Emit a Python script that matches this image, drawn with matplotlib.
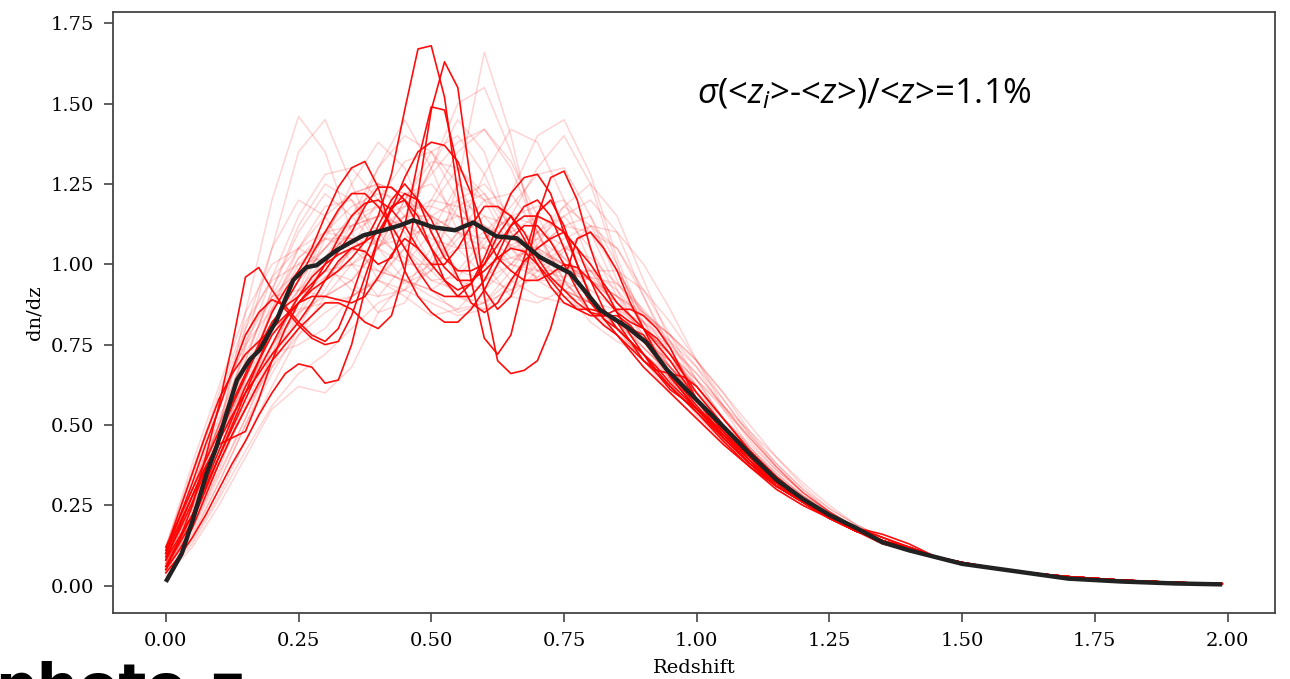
"""Redshift distribution: individual realisations (red) and their mean (black)."""

import matplotlib
matplotlib.use("Agg")
import matplotlib.pyplot as plt
import numpy as np

plt.rcParams["mathtext.fontset"] = "custom"
plt.rcParams["mathtext.rm"] = "Open Sans"
plt.rcParams["mathtext.it"] = "Open Sans:italic"

# redshift grids: fine one for the highlighted curves, coarse one for the pale ones
Z_FINE = [0.000, 0.025, 0.050, 0.075, 0.100, 0.125, 0.150, 0.175, 0.200, 0.225, 0.250,
          0.275, 0.300, 0.325, 0.350, 0.375, 0.400, 0.425, 0.450, 0.475, 0.500, 0.525,
          0.550, 0.575, 0.600, 0.625, 0.650, 0.675, 0.700, 0.725, 0.750, 0.775, 0.800,
          0.825, 0.850, 0.875, 0.900, 0.925, 0.950, 0.975, 1.000,
          1.05, 1.10, 1.15, 1.20, 1.25, 1.30, 1.35, 1.40]
Z = [0.00, 0.05, 0.10, 0.15, 0.20, 0.25, 0.30, 0.35, 0.40, 0.45, 0.50, 0.55, 0.60, 0.65,
     0.70, 0.75, 0.80, 0.85, 0.90, 0.95, 1.00, 1.05, 1.10, 1.15, 1.20, 1.25, 1.30, 1.35, 1.40]
Z_TAIL = [1.45, 1.50, 1.55, 1.60, 1.65, 1.70, 1.80, 1.90, 1.99]
TAIL = [0.090, 0.072, 0.058, 0.046, 0.036, 0.028, 0.017, 0.010, 0.006]

# mean dn/dz (black)
Z_MEAN = [0.00, 0.03, 0.05, 0.077, 0.096, 0.115, 0.134, 0.158, 0.177, 0.209, 0.24, 0.265, 0.284,
          0.322, 0.372, 0.41, 0.441, 0.466, 0.504, 0.545, 0.579, 0.623, 0.661, 0.705, 0.762,
          0.793, 0.818, 0.869, 0.906, 0.944, 0.994, 1.05, 1.10, 1.15, 1.20, 1.25, 1.30, 1.35,
          1.40, 1.50, 1.60, 1.70, 1.80, 1.90, 1.99]
DNDZ_MEAN = [0.012, 0.10, 0.20, 0.35, 0.434, 0.539, 0.64, 0.703, 0.734, 0.827, 0.951, 0.991,
             0.997, 1.044, 1.09, 1.106, 1.121, 1.137, 1.115, 1.106, 1.13, 1.087, 1.081, 1.022,
             0.972, 0.91, 0.858, 0.805, 0.756, 0.672, 0.588, 0.495, 0.41, 0.33, 0.27, 0.22,
             0.18, 0.135, 0.11, 0.068, 0.045, 0.022, 0.013, 0.007, 0.004]

# highlighted realisations (on Z_FINE)
BRIGHT = [
    [.08, .15, .22, .32, .42, .52, .62, .70, .78, .83, .88, .92, .95, .98, 1.02, 1.07, 1.15, 1.28, 1.48, 1.67, 1.68,
     1.52, 1.22, .95, .77, .72, .78, .95, 1.15, 1.27, 1.29, 1.20, 1.05, .93, .85, .78, .72, .66, .61, .58, .55,
     .48, .40, .32, .26, .21, .17, .14, .12],
    [.05, .11, .18, .28, .38, .47, .55, .63, .70, .75, .80, .84, .88, .88, .86, .82, .80, .84, .98, 1.22, 1.48,
     1.63, 1.55, 1.25, .90, .70, .66, .67, .70, .80, .95, 1.08, 1.10, 1.05, .98, .88, .80, .72, .65, .60, .55,
     .47, .40, .32, .26, .21, .17, .14, .12],
    [.10, .19, .28, .37, .45, .53, .60, .66, .72, .77, .82, .88, .95, 1.01, 1.05, 1.04, 1.00, 1.02, 1.12, 1.32, 1.49,
     1.48, 1.30, 1.08, .92, .86, .90, 1.02, 1.16, 1.20, 1.12, 1.00, .90, .85, .82, .80, .78, .72, .65, .60, .55,
     .46, .38, .31, .26, .22, .18, .14, .11],
    [.06, .13, .20, .30, .40, .49, .58, .67, .75, .83, .90, .96, 1.00, 1.03, 1.05, 1.07, 1.10, 1.17, 1.27, 1.35, 1.38,
     1.37, 1.32, 1.22, 1.10, 1.02, .98, .95, .95, .97, 1.00, .99, .95, .90, .85, .82, .80, .77, .72, .66, .60,
     .50, .42, .34, .27, .22, .17, .14, .12],
    [.12, .21, .30, .39, .48, .57, .66, .75, .85, .92, .98, 1.05, 1.15, 1.24, 1.30, 1.32, 1.24, 1.10, .98, .90, .85,
     .82, .82, .86, .92, 1.00, 1.08, 1.12, 1.12, 1.07, 1.00, .92, .85, .81, .78, .74, .70, .66, .62, .58, .54,
     .45, .37, .30, .25, .21, .17, .14, .11],
    [.05, .14, .25, .40, .56, .75, .96, .99, .92, .86, .81, .77, .75, .76, .84, .96, 1.08, 1.17, 1.22, 1.20, 1.14,
     1.05, .96, .88, .85, .88, .95, 1.01, 1.05, 1.08, 1.10, 1.05, .95, .86, .80, .76, .72, .67, .62, .58, .54,
     .46, .38, .31, .26, .21, .17, .14, .11],
    [.04, .09, .15, .22, .30, .38, .45, .53, .60, .66, .69, .68, .63, .64, .75, .92, 1.08, 1.18, 1.20, 1.15, 1.05,
     .95, .90, .90, .95, 1.03, 1.12, 1.18, 1.20, 1.15, 1.05, .95, .88, .83, .80, .76, .72, .68, .63, .59, .55,
     .47, .38, .31, .26, .21, .17, .14, .11],
    [.10, .21, .32, .44, .55, .67, .78, .85, .89, .87, .82, .78, .76, .80, .90, 1.02, 1.12, 1.20, 1.25, 1.20, 1.10,
     1.02, .98, .98, 1.00, 1.06, 1.12, 1.15, 1.15, 1.13, 1.10, 1.05, 1.00, .94, .88, .84, .80, .75, .70, .64, .58,
     .48, .39, .32, .26, .21, .17, .13, .11],
    [.08, .18, .28, .37, .44, .46, .48, .58, .70, .80, .88, .90, .90, .89, .88, .90, .96, 1.03, 1.08, 1.05, 1.00,
     .95, .92, .94, 1.00, 1.09, 1.15, 1.10, 1.02, .96, .92, .88, .85, .84, .84, .81, .76, .71, .66, .61, .56,
     .47, .39, .31, .26, .21, .17, .14, .11],
    [.06, .14, .22, .31, .40, .50, .60, .70, .80, .88, .95, 1.03, 1.10, 1.17, 1.22, 1.22, 1.18, 1.12, 1.05, .98, .92,
     .90, .90, .94, 1.02, 1.12, 1.22, 1.27, 1.28, 1.22, 1.10, 1.00, .90, .83, .78, .73, .68, .64, .60, .56, .52,
     .44, .37, .31, .26, .21, .17, .14, .11],
    [.09, .17, .26, .36, .46, .56, .65, .74, .82, .87, .90, .94, .98, 1.04, 1.10, 1.18, 1.24, 1.24, 1.20, 1.12, 1.05,
     .99, .95, .95, .98, 1.02, 1.05, 1.04, 1.00, .95, .90, .86, .84, .84, .86, .86, .84, .80, .74, .66, .58,
     .46, .38, .32, .27, .22, .18, .16, .13],
    [.11, .23, .35, .47, .58, .66, .72, .76, .80, .84, .88, .93, 1.00, 1.08, 1.15, 1.19, 1.20, 1.17, 1.12, 1.05, 1.00,
     1.00, 1.05, 1.12, 1.18, 1.18, 1.15, 1.08, 1.00, .93, .88, .86, .86, .85, .82, .76, .70, .67, .66, .65, .62,
     .52, .42, .33, .27, .22, .18, .15, .12],
]

# the rest of the realisations, pale (on Z)
FAINT = [
    [0.05, 0.20, 0.45, 0.75, 1.05, 1.35, 1.45, 1.25, 1.05, 1.00, 1.10, 1.25, 1.20, 1.05, 0.95, 0.95, 0.90, 0.80, 0.70, 0.62, 0.54, 0.45, 0.37, 0.30, 0.25, 0.21, 0.17, 0.14, 0.11],
    [0.10, 0.30, 0.50, 0.70, 0.92, 1.10, 1.22, 1.15, 1.05, 1.12, 1.30, 1.45, 1.35, 1.10, 0.95, 0.90, 0.88, 0.82, 0.74, 0.66, 0.58, 0.48, 0.40, 0.32, 0.26, 0.21, 0.17, 0.14, 0.11],
    [0.07, 0.22, 0.40, 0.55, 0.70, 0.85, 1.00, 1.12, 1.18, 1.05, 0.98, 1.25, 1.66, 1.40, 1.05, 0.92, 0.88, 0.82, 0.74, 0.66, 0.58, 0.48, 0.40, 0.32, 0.26, 0.21, 0.17, 0.14, 0.11],
    [0.12, 0.35, 0.60, 0.82, 0.95, 1.00, 1.02, 1.10, 1.30, 1.45, 1.30, 1.10, 1.00, 1.02, 1.05, 1.00, 0.90, 0.80, 0.72, 0.64, 0.56, 0.47, 0.39, 0.31, 0.26, 0.21, 0.17, 0.14, 0.11],
    [0.04, 0.15, 0.32, 0.50, 0.66, 0.80, 0.95, 1.05, 1.10, 1.15, 1.15, 1.10, 1.08, 1.15, 1.30, 1.40, 1.25, 1.00, 0.80, 0.66, 0.56, 0.47, 0.39, 0.31, 0.26, 0.21, 0.17, 0.14, 0.11],
    [0.09, 0.28, 0.50, 0.68, 0.82, 0.92, 0.98, 1.00, 0.98, 0.95, 0.90, 0.86, 0.88, 0.95, 1.05, 1.12, 1.10, 0.98, 0.85, 0.75, 0.66, 0.56, 0.46, 0.37, 0.29, 0.23, 0.18, 0.15, 0.12],
    [0.06, 0.24, 0.50, 0.80, 1.05, 1.20, 1.15, 1.00, 0.90, 0.92, 1.05, 1.20, 1.25, 1.15, 1.05, 1.00, 0.95, 0.90, 0.85, 0.78, 0.68, 0.55, 0.43, 0.34, 0.27, 0.22, 0.18, 0.15, 0.12],
    [0.11, 0.30, 0.48, 0.62, 0.75, 0.90, 1.08, 1.25, 1.38, 1.30, 1.10, 0.95, 0.92, 1.00, 1.10, 1.15, 1.05, 0.90, 0.78, 0.68, 0.58, 0.49, 0.41, 0.33, 0.27, 0.22, 0.18, 0.14, 0.11],
    [0.05, 0.18, 0.35, 0.52, 0.70, 0.88, 0.98, 0.95, 0.85, 0.88, 1.02, 1.18, 1.22, 1.12, 1.00, 0.92, 0.88, 0.86, 0.82, 0.76, 0.68, 0.58, 0.47, 0.37, 0.29, 0.23, 0.18, 0.14, 0.11],
    [0.08, 0.26, 0.46, 0.66, 0.86, 1.05, 1.18, 1.20, 1.10, 1.00, 1.00, 1.10, 1.20, 1.22, 1.10, 0.95, 0.85, 0.80, 0.76, 0.70, 0.62, 0.52, 0.42, 0.34, 0.27, 0.22, 0.18, 0.15, 0.12],
    [0.10, 0.32, 0.56, 0.78, 0.90, 0.92, 0.90, 0.95, 1.05, 1.20, 1.35, 1.40, 1.28, 1.10, 0.98, 0.92, 0.88, 0.80, 0.70, 0.60, 0.52, 0.44, 0.37, 0.31, 0.26, 0.21, 0.17, 0.14, 0.11],
    [0.04, 0.14, 0.28, 0.45, 0.62, 0.78, 0.90, 1.00, 1.08, 1.15, 1.20, 1.18, 1.10, 1.02, 1.00, 1.05, 1.10, 1.05, 0.92, 0.78, 0.64, 0.52, 0.42, 0.34, 0.28, 0.23, 0.18, 0.15, 0.12],
    [0.12, 0.38, 0.62, 0.85, 1.00, 1.05, 1.00, 0.92, 0.90, 1.00, 1.18, 1.30, 1.22, 1.08, 1.05, 1.12, 1.15, 1.00, 0.80, 0.64, 0.53, 0.45, 0.38, 0.31, 0.26, 0.21, 0.17, 0.14, 0.11],
    [0.07, 0.22, 0.42, 0.62, 0.80, 0.95, 1.05, 1.12, 1.15, 1.12, 1.08, 1.05, 1.05, 1.10, 1.15, 1.10, 0.98, 0.86, 0.76, 0.68, 0.60, 0.52, 0.44, 0.36, 0.29, 0.23, 0.18, 0.14, 0.11],
    [0.06, 0.20, 0.38, 0.55, 0.68, 0.78, 0.85, 0.90, 0.95, 1.05, 1.20, 1.35, 1.42, 1.30, 1.10, 0.95, 0.85, 0.78, 0.72, 0.65, 0.57, 0.48, 0.40, 0.32, 0.26, 0.21, 0.17, 0.14, 0.11],
    [0.09, 0.30, 0.55, 0.76, 0.90, 0.98, 1.05, 1.15, 1.25, 1.22, 1.10, 0.98, 0.95, 1.00, 1.08, 1.15, 1.20, 1.10, 0.90, 0.72, 0.58, 0.48, 0.40, 0.33, 0.27, 0.22, 0.18, 0.14, 0.11],
    [0.05, 0.17, 0.34, 0.52, 0.72, 0.92, 1.10, 1.22, 1.25, 1.15, 1.00, 0.90, 0.86, 0.90, 0.98, 1.05, 1.02, 0.94, 0.85, 0.78, 0.70, 0.60, 0.48, 0.38, 0.30, 0.23, 0.18, 0.14, 0.11],
    [0.10, 0.28, 0.45, 0.60, 0.72, 0.82, 0.92, 1.05, 1.20, 1.32, 1.35, 1.25, 1.10, 1.00, 0.96, 0.98, 0.98, 0.92, 0.82, 0.70, 0.58, 0.48, 0.40, 0.32, 0.26, 0.21, 0.17, 0.14, 0.11],
    [0.08, 0.24, 0.44, 0.65, 0.85, 1.00, 1.08, 1.05, 0.98, 0.95, 1.00, 1.05, 1.10, 1.18, 1.28, 1.30, 1.15, 0.95, 0.80, 0.68, 0.58, 0.48, 0.40, 0.33, 0.27, 0.22, 0.18, 0.15, 0.12],
    [0.11, 0.34, 0.58, 0.80, 0.96, 1.05, 1.10, 1.12, 1.15, 1.22, 1.25, 1.15, 1.00, 0.90, 0.88, 0.92, 0.96, 0.94, 0.86, 0.76, 0.64, 0.52, 0.42, 0.33, 0.27, 0.22, 0.18, 0.14, 0.11],
    [0.06, 0.18, 0.36, 0.58, 0.80, 0.98, 1.10, 1.18, 1.22, 1.20, 1.15, 1.10, 1.05, 1.00, 0.98, 0.98, 0.95, 0.88, 0.80, 0.72, 0.64, 0.56, 0.48, 0.40, 0.32, 0.25, 0.19, 0.15, 0.12],
    [0.07, 0.23, 0.42, 0.60, 0.75, 0.85, 0.90, 0.95, 1.05, 1.20, 1.32, 1.30, 1.20, 1.15, 1.18, 1.20, 1.10, 0.92, 0.76, 0.64, 0.54, 0.46, 0.39, 0.32, 0.27, 0.22, 0.18, 0.14, 0.11],
    [0.09, 0.27, 0.48, 0.70, 0.92, 1.12, 1.25, 1.20, 1.05, 0.95, 0.92, 0.98, 1.08, 1.15, 1.12, 1.02, 0.92, 0.86, 0.80, 0.72, 0.62, 0.52, 0.43, 0.35, 0.28, 0.22, 0.18, 0.14, 0.11],
    [0.05, 0.16, 0.32, 0.50, 0.68, 0.84, 0.96, 1.04, 1.10, 1.18, 1.28, 1.38, 1.42, 1.32, 1.15, 1.00, 0.90, 0.82, 0.76, 0.70, 0.62, 0.52, 0.42, 0.34, 0.27, 0.22, 0.18, 0.14, 0.11],
    [0.12, 0.36, 0.58, 0.75, 0.86, 0.95, 1.05, 1.15, 1.18, 1.10, 0.98, 0.90, 0.88, 0.92, 1.00, 1.08, 1.12, 1.10, 1.00, 0.86, 0.70, 0.56, 0.45, 0.36, 0.29, 0.23, 0.18, 0.15, 0.12],
    [0.08, 0.25, 0.46, 0.68, 0.88, 1.02, 1.08, 1.08, 1.06, 1.08, 1.12, 1.15, 1.12, 1.06, 1.02, 1.00, 0.96, 0.90, 0.82, 0.74, 0.66, 0.56, 0.46, 0.37, 0.29, 0.23, 0.18, 0.14, 0.11],
    [0.06, 0.20, 0.40, 0.60, 0.78, 0.90, 0.96, 1.00, 1.05, 1.15, 1.30, 1.50, 1.55, 1.35, 1.10, 0.92, 0.82, 0.76, 0.72, 0.66, 0.58, 0.49, 0.40, 0.33, 0.27, 0.22, 0.18, 0.14, 0.11],
    [0.10, 0.30, 0.52, 0.72, 0.90, 1.05, 1.15, 1.22, 1.25, 1.22, 1.15, 1.05, 0.96, 0.92, 0.96, 1.04, 1.12, 1.05, 0.90, 0.74, 0.60, 0.50, 0.41, 0.33, 0.27, 0.22, 0.18, 0.14, 0.11],
    [0.07, 0.21, 0.38, 0.56, 0.74, 0.90, 1.02, 1.10, 1.15, 1.18, 1.18, 1.15, 1.12, 1.08, 1.04, 1.00, 0.95, 0.88, 0.80, 0.72, 0.64, 0.55, 0.46, 0.37, 0.29, 0.23, 0.18, 0.14, 0.11],
    [0.09, 0.28, 0.50, 0.74, 0.96, 1.15, 1.28, 1.30, 1.20, 1.05, 0.95, 0.92, 0.98, 1.06, 1.10, 1.06, 0.98, 0.88, 0.78, 0.68, 0.58, 0.49, 0.41, 0.33, 0.27, 0.22, 0.18, 0.14, 0.11],
    [0.03, 0.12, 0.25, 0.40, 0.55, 0.62, 0.60, 0.68, 0.85, 0.95, 0.92, 0.85, 0.88, 0.98, 1.10, 1.18, 1.12, 0.98, 0.84, 0.72, 0.62, 0.52, 0.43, 0.35, 0.28, 0.23, 0.18, 0.15, 0.12],
    [0.08, 0.25, 0.45, 0.62, 0.72, 0.75, 0.80, 0.90, 0.95, 0.90, 0.84, 0.86, 0.95, 1.05, 1.08, 1.02, 0.95, 0.90, 0.84, 0.78, 0.70, 0.60, 0.50, 0.40, 0.31, 0.24, 0.19, 0.15, 0.12],
    [0.06, 0.22, 0.48, 0.85, 1.20, 1.46, 1.35, 1.10, 0.95, 0.92, 0.98, 1.08, 1.15, 1.12, 1.02, 0.94, 0.88, 0.82, 0.76, 0.68, 0.60, 0.50, 0.41, 0.33, 0.27, 0.22, 0.18, 0.14, 0.11],
    [0.04, 0.13, 0.27, 0.42, 0.56, 0.66, 0.72, 0.80, 0.88, 0.92, 0.88, 0.84, 0.86, 0.94, 1.06, 1.18, 1.25, 1.15, 0.95, 0.76, 0.62, 0.50, 0.41, 0.33, 0.27, 0.22, 0.18, 0.14, 0.11],
    [0.09, 0.26, 0.45, 0.64, 0.80, 0.92, 1.02, 1.15, 1.30, 1.40, 1.35, 1.20, 1.05, 0.95, 0.90, 0.88, 0.86, 0.82, 0.76, 0.68, 0.60, 0.50, 0.42, 0.34, 0.28, 0.22, 0.18, 0.14, 0.11],
    [0.07, 0.21, 0.38, 0.55, 0.72, 0.88, 1.00, 1.08, 1.08, 1.02, 0.95, 0.96, 1.06, 1.22, 1.40, 1.45, 1.28, 1.02, 0.82, 0.68, 0.57, 0.48, 0.40, 0.33, 0.27, 0.22, 0.18, 0.14, 0.11],
    [0.10, 0.30, 0.50, 0.68, 0.80, 0.86, 0.88, 0.90, 0.96, 1.05, 1.15, 1.20, 1.15, 1.05, 0.98, 0.96, 0.98, 0.98, 0.92, 0.82, 0.70, 0.58, 0.47, 0.38, 0.30, 0.24, 0.19, 0.15, 0.12],
    [0.05, 0.19, 0.40, 0.64, 0.86, 1.02, 1.10, 1.08, 1.00, 0.94, 0.98, 1.10, 1.28, 1.42, 1.38, 1.20, 1.00, 0.85, 0.74, 0.66, 0.58, 0.49, 0.41, 0.33, 0.27, 0.22, 0.18, 0.14, 0.11],
]

ANNOT = r"$\sigma$(<$z_i$>-<$z$>)/<$z$>=1.1%"

fig = plt.figure(figsize=(12.9, 6.79), dpi=100)
ax = fig.add_axes([0.0876, 0.0972, 0.9008, 0.8851])

for c in FAINT:
    ax.plot(Z + Z_TAIL, c + TAIL, color="red", alpha=0.17, lw=1.1)
for c in BRIGHT:
    ax.plot(Z_FINE + Z_TAIL, c + TAIL, color="red", alpha=0.95, lw=1.2)
ax.plot(Z_MEAN, DNDZ_MEAN, color="#222222", lw=3.2, solid_capstyle="butt")

ax.set_xlim(-0.0995, 2.0895)
ax.set_ylim(-0.085, 1.785)
ax.set_xticks(np.arange(0, 2.01, 0.25))
ax.set_yticks(np.arange(0, 1.76, 0.25))
ax.tick_params(labelsize=14, length=6.5, width=1.2, pad=7, color="#444444")
for lab in ax.get_xticklabels() + ax.get_yticklabels():
    lab.set_family("DejaVu Serif")
for sp in ax.spines.values():
    sp.set_color("#444444")
    sp.set_linewidth(1.3)

ax.set_xlabel("Redshift", family="DejaVu Serif", fontsize=14, labelpad=7)
ax.set_ylabel("dn/dz", family="DejaVu Serif", fontsize=14, labelpad=5)

ax.text(1.0, 1.53, ANNOT, fontsize=25, family="Open Sans", va="center", ha="left")

fig.text(-0.004, -0.040, "photo-z", fontsize=42, weight="bold", family="DejaVu Sans",
         va="baseline", ha="left")

fig.savefig("out.png", dpi=100)
